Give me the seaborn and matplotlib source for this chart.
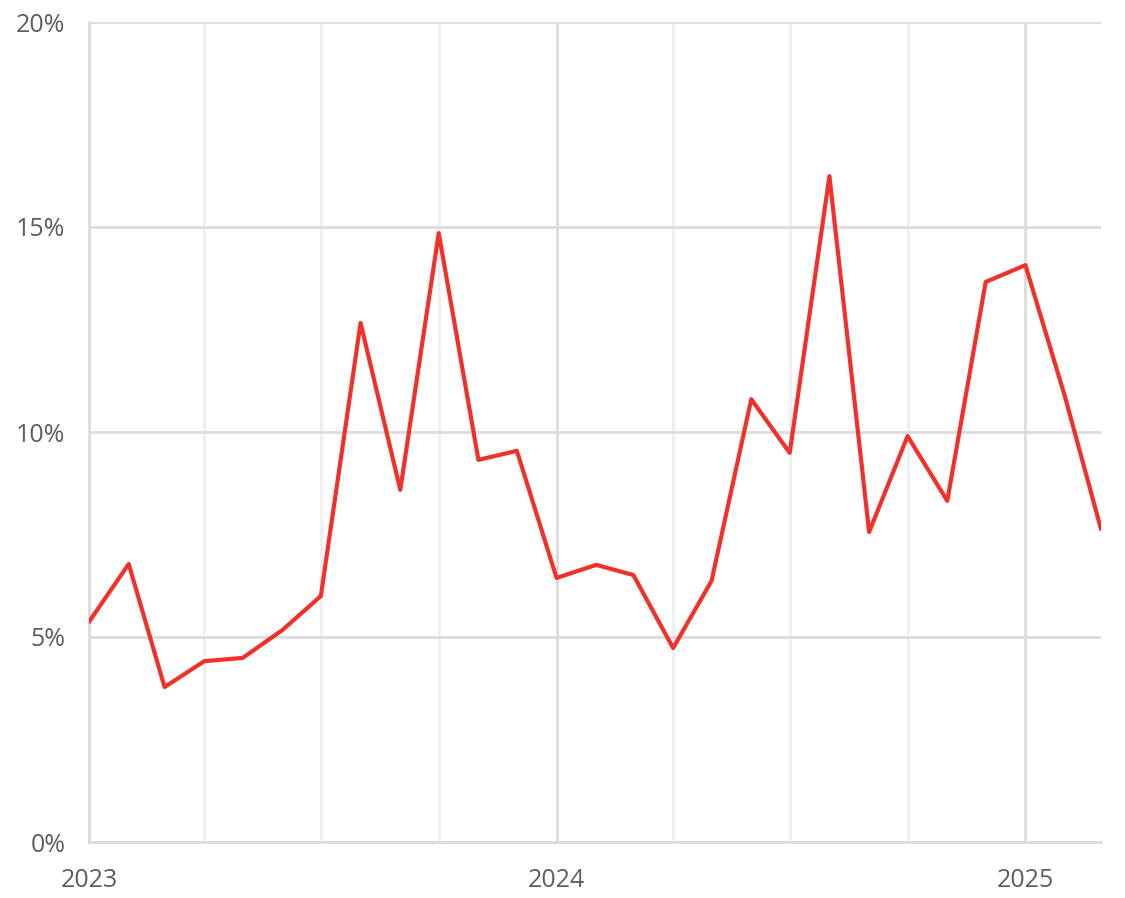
import pandas as pd
import matplotlib
matplotlib.use('Agg')
import matplotlib.pyplot as plt
import matplotlib.dates as mdates
from matplotlib.ticker import FuncFormatter, MultipleLocator
import seaborn as sns

# monthly values, Jan 2023 - Mar 2025 (percent)
months = pd.date_range('2023-01-01', '2025-03-01', freq='MS')
values = [5.37, 6.78, 3.78, 4.41, 4.49, 5.17, 6.0, 12.66, 8.59, 14.85, 9.32, 9.54,
          6.44, 6.76, 6.51, 4.73, 6.37, 10.80, 9.49, 16.24, 7.56, 9.90, 8.32, 13.66,
          14.07, 10.85, 7.63]
year_ticks = ['2023', '2024', '2025']

df = pd.DataFrame({'month': months, 'value': values})

sns.set_style('white')
plt.rcParams['font.family'] = ['Open Sans', 'DejaVu Sans']

fig = plt.figure(figsize=(11.25, 8.98), dpi=100)
ax = fig.add_axes([89/1125, 1 - 842/898, (1101-89)/1125, (842-22)/898])

sns.lineplot(data=df, x='month', y='value', color='#f2302a', linewidth=3, ax=ax, zorder=3)

ax.set_xlim(months[0], months[-1])
ax.set_ylim(0, 20)
ax.yaxis.set_major_locator(MultipleLocator(5))
ax.yaxis.set_major_formatter(FuncFormatter(lambda v, p: f'{v:.0f}%'))

ax.xaxis.set_major_locator(mdates.YearLocator())
ax.xaxis.set_minor_locator(mdates.MonthLocator(bymonth=[4, 7, 10]))
ax.set_xticks(pd.to_datetime([y + '-01-01' for y in year_ticks]))
ax.set_xticklabels(year_ticks)

ax.grid(axis='y', color='#dcdcdc', linewidth=2)
ax.grid(axis='x', which='major', color='#dcdcdc', linewidth=2)
ax.grid(axis='x', which='minor', color='#efefef', linewidth=2)
ax.set_axisbelow(True)

for s in ['top', 'right']:
    ax.spines[s].set_visible(False)
for s in ['left', 'bottom']:
    ax.spines[s].set_color('#dcdcdc')
    ax.spines[s].set_linewidth(2)

ax.tick_params(axis='both', which='both', length=0, labelsize=18, colors='#5e5e5e')
ax.tick_params(axis='x', pad=19)
ax.tick_params(axis='y', pad=17)
ax.set_xlabel('')
ax.set_ylabel('')

fig.savefig('out.png', dpi=100)
